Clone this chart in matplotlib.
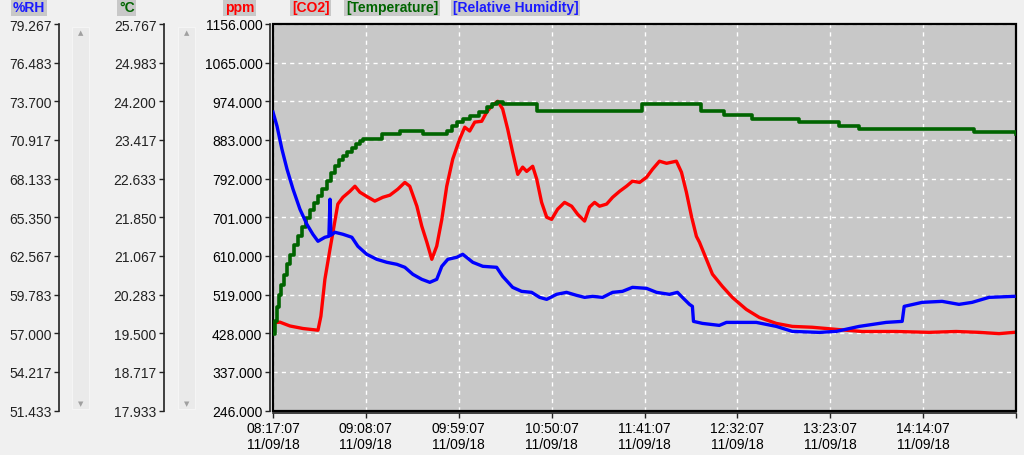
import matplotlib
matplotlib.use("Agg")
import matplotlib.pyplot as plt
from matplotlib.patches import Rectangle
import numpy as np

plt.rcParams['font.family'] = ['Liberation Sans', 'DejaVu Sans']

# ---------------- data (minutes since 08:17:07, 11/09/18) ----------------
co2_t = [1.1, 3.8, 9.3, 16.5, 24.7, 26.3, 28.5, 31.3, 33.5, 35.6, 38.4, 42.2, 45.0, 47.7,
         51.5, 55.9, 60.3, 64.2, 68.5, 72.4, 75.1, 79.0, 81.7, 84.5, 87.2, 89.9, 92.7,
         95.4, 98.7, 102.5, 105.3, 108.0, 110.8, 114.6, 117.4, 120.1, 123.4, 126.1,
         128.9, 131.6, 134.4, 137.1, 139.3, 142.6, 144.8, 147.5, 150.3, 153.0, 156.3,
         160.1, 164.0, 167.3, 171.1, 173.8, 176.6, 179.3, 183.2, 186.5, 190.3, 194.1,
         197.4, 201.3, 205.1, 208.4, 212.2, 216.1, 221.5, 224.3, 227.0, 229.8, 232.5,
         234.2, 238.0, 241.3, 246.8, 252.3, 259.9, 267.1, 276.4, 285.2, 296.1, 309.3,
         323.5, 342.2, 360.3, 375.1, 387.7, 398.7, 406.9]
co2_ppm = [453, 454, 445, 439, 435, 468, 555, 626, 680, 732, 748, 762, 774, 760,
           750, 739, 748, 753, 767, 783, 774, 727, 680, 642, 602, 633, 696,
           774, 838, 885, 913, 904, 925, 927, 949, 963, 974, 956,
           908, 854, 802, 819, 809, 821, 791, 736, 701, 696, 720,
           736, 727, 708, 692, 725, 736, 727, 732, 748, 762, 774,
           786, 783, 795, 814, 833, 828, 833, 807, 760, 703, 656,
           642, 602, 567, 538, 512, 484, 465, 451, 444, 442, 437,
           432, 432, 430, 432, 430, 427, 430]

temp_t = [0.0, 1.1, 2.2, 3.3, 4.4, 6.0, 7.7, 9.3, 11.5, 13.7, 15.9, 18.1, 20.3, 22.5,
          24.7, 26.9, 29.6, 31.8, 34.0, 36.2, 38.4, 40.6, 43.3, 45.5, 47.7, 49.4,
          59.8, 69.6, 82.3, 95.4, 98.2, 100.9, 104.2, 108.0, 113.0, 117.4, 120.1,
          122.8, 126.1, 144.8, 202.9, 235.3, 247.9, 263.2, 289.0, 311.0, 321.9,
          385.0, 408.0]
temp_c = [19.476, 19.739, 20.024, 20.267, 20.470, 20.673, 20.896, 21.079, 21.282,
          21.464, 21.647, 21.830, 21.992, 22.134, 22.276, 22.418, 22.581, 22.743,
          22.885, 23.007, 23.088, 23.169, 23.250, 23.332, 23.392, 23.433,
          23.535, 23.595, 23.535, 23.595, 23.697, 23.778, 23.839, 23.900, 23.981,
          24.083, 24.143, 24.184, 24.143, 24.001, 24.143, 24.001, 23.920, 23.839,
          23.778, 23.697, 23.636, 23.575, 23.535]

rh_t = [0.0, 2.2, 4.9, 7.7, 11.0, 14.8, 18.6, 21.9, 24.7, 28.5, 30.7, 31.3, 31.8, 34.0,
        38.4, 43.3, 46.6, 51.5, 57.0, 62.5, 68.0, 72.4, 76.8, 81.7, 86.1, 89.9, 92.7,
        96.0, 100.9, 104.2, 109.7, 115.2, 122.8, 126.1, 131.6, 136.5, 142.0, 146.4,
        150.3, 155.7, 161.2, 166.7, 171.1, 175.5, 181.0, 186.5, 191.9, 197.4, 205.1,
        210.6, 217.7, 222.1, 224.8, 228.7, 230.3, 230.9, 235.8, 245.1, 249.0, 265.4,
        276.4, 285.2, 300.0, 309.3, 321.9, 336.7, 345.5, 346.6, 356.5, 367.4, 376.7,
        383.9, 393.2, 406.9]
rh_pct = [72.921, 71.912, 70.253, 68.811, 67.369, 65.927, 64.845, 64.124, 63.619,
          63.908, 63.980, 66.648, 64.052, 64.268, 64.124, 63.908, 63.259, 62.682,
          62.321, 62.105, 61.961, 61.745, 61.240, 60.879, 60.663, 60.879, 61.817,
          62.321, 62.466, 62.682, 62.105, 61.817, 61.745, 61.096, 60.302, 60.014,
          59.942, 59.581, 59.437, 59.798, 59.942, 59.726, 59.581, 59.653, 59.581,
          59.942, 60.014, 60.302, 60.230, 59.942, 59.798, 59.942, 59.581, 59.076,
          58.932, 57.851, 57.706, 57.562, 57.778, 57.778, 57.490, 57.130, 57.057,
          57.130, 57.490, 57.778, 57.851, 58.932, 59.221, 59.293, 59.076, 59.221,
          59.581, 59.653]

x_ticks = [0, 51, 102, 153, 204, 255, 306, 357, 408]
x_tick_labels = ["08:17:07\n11/09/18", "09:08:07\n11/09/18", "09:59:07\n11/09/18",
                 "10:50:07\n11/09/18", "11:41:07\n11/09/18", "12:32:07\n11/09/18",
                 "13:23:07\n11/09/18", "14:14:07\n11/09/18", ""]
ppm_ticks = [246, 337, 428, 519, 610, 701, 792, 883, 974, 1065, 1156]
temp_ticks = [17.933, 18.717, 19.500, 20.283, 21.067, 21.850, 22.633, 23.417, 24.200, 24.983, 25.767]
rh_ticks = [51.433, 54.217, 57.000, 59.783, 62.567, 65.350, 68.133, 70.917, 73.700, 76.483, 79.267]

# ---------------- figure ----------------
W, H = 1024, 456
PT = 0.72  # points per pixel at dpi 100
fig = plt.figure(figsize=(W / 100, H / 100), dpi=100, facecolor='#f0f0f0')
left_px, right_px, top_px, bot_px = 273, 1016, 25, 411.5
ax = fig.add_axes([left_px / W, 1 - bot_px / H, (right_px - left_px) / W, (bot_px - top_px) / H])
ax.set_facecolor('#c8c8c8')

tick_fs = 10
txt_col = '#222222'
tick_len = 5 * PT
tick_pad = 2.5 * PT

ax.plot(co2_t, co2_ppm, color='#ff0000', lw=2.4, zorder=3)
ax.set_xlim(x_ticks[0], x_ticks[-1])
ax.set_ylim(ppm_ticks[0], ppm_ticks[-1])
ax.set_yticks(ppm_ticks)
ax.set_yticklabels([f"{v:.3f}" for v in ppm_ticks], fontsize=tick_fs, color=txt_col)
ax.set_xticks(x_ticks)
ax.set_xticklabels(x_tick_labels, fontsize=tick_fs, color=txt_col, linespacing=0.8)
ax.grid(True, color='white', ls=(0, (3, 3)), lw=1.0)
ax.set_axisbelow(True)
for s in ['top', 'right']:
    ax.spines[s].set_visible(False)
ax.spines['left'].set_position(('outward', 3 * PT))
ax.spines['bottom'].set_position(('outward', 2 * PT))
for s in ['left', 'bottom']:
    ax.spines[s].set_color('#222222')
    ax.spines[s].set_linewidth(1.2)
ax.tick_params(axis='both', length=tick_len, width=1.0, color='#222222', pad=tick_pad)
ax.tick_params(axis='x', pad=3.5 * PT)
ax.add_patch(Rectangle((0, 0), 1, 1, transform=ax.transAxes, fill=False,
                       ec='black', lw=1.6, clip_on=False, zorder=6))

def side_axis(offset_px, lo, hi, ticks):
    a = ax.twinx()
    a.set_ylim(lo, hi)
    a.patch.set_visible(False)
    a.yaxis.set_ticks_position('left')
    a.yaxis.set_label_position('left')
    for s in ['top', 'right', 'bottom']:
        a.spines[s].set_visible(False)
    a.spines['left'].set_visible(True)
    a.spines['left'].set_position(('outward', offset_px * PT))
    a.spines['left'].set_color('#222222')
    a.spines['left'].set_linewidth(1.2)
    a.set_yticks(ticks)
    a.set_yticklabels([f"{v:.3f}" for v in ticks], fontsize=tick_fs, color=txt_col)
    a.tick_params(axis='y', length=tick_len, width=1.0, color='#222222', pad=tick_pad)
    return a

axT = side_axis(left_px - 164, temp_ticks[0], temp_ticks[-1], temp_ticks)
axT.plot(temp_t, temp_c, color='#006400', lw=2.6, drawstyle='steps-post', zorder=3)

axRH = side_axis(left_px - 59, rh_ticks[0], rh_ticks[-1], rh_ticks)
axRH.plot(rh_t, rh_pct, color='#0000ff', lw=2.4, zorder=3)

# scrollbar strips
for xs in [72, 178]:
    r = Rectangle((xs / W, 1 - 410 / H), 17 / W, 382 / H,
                  transform=fig.transFigure, fc='#eaeaea', ec='#f5f5f5', lw=0.8, zorder=-1)
    fig.add_artist(r)
    fig.text((xs + 8.5) / W, 1 - 33 / H, '▲', fontsize=5, color='#a0a0a0',
             ha='center', va='center', family='DejaVu Sans')
    fig.text((xs + 8.5) / W, 1 - 404 / H, '▼', fontsize=5, color='#a0a0a0',
             ha='center', va='center', family='DejaVu Sans')

# header labels
box = dict(boxstyle='square,pad=0.12', fc='#c8c8c8', ec='none')
headers = [(13, '%RH', '#1a1aff'), (119, '°C', '#006400'), (225, 'ppm', '#ff0000'),
           (292, '[CO2]', '#ff0000'), (346, '[Temperature]', '#006400'),
           (453, '[Relative Humidity]', '#1a1aff')]
for xp, t, c in headers:
    fig.text(xp / W, 1 - 8 / H, t, color=c, fontsize=10, fontweight='bold',
             ha='left', va='center', bbox=box)

fig.savefig('out.png', dpi=100, facecolor=fig.get_facecolor())
